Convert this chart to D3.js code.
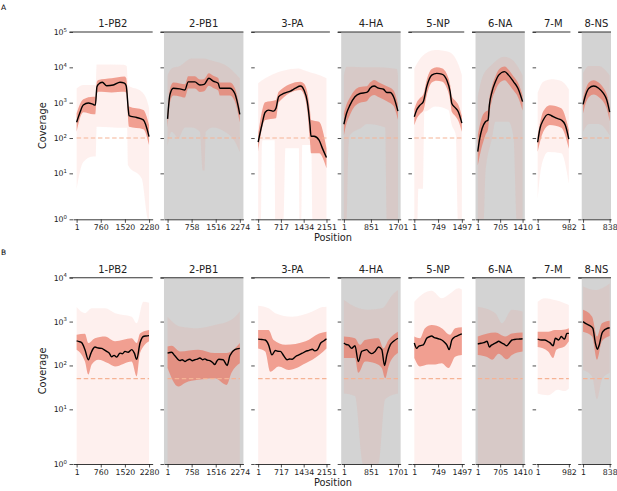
<!DOCTYPE html>
<html>
<head>
<meta charset="utf-8">
<script src="https://cdn.jsdelivr.net/npm/d3@7"></script>
<style>
  body { margin: 0; background: #fff; }
  text { font-family: "DejaVu Sans", sans-serif; }
</style>
</head>
<body>
<div id="chart"></div>
<script>

const segments = ['1-PB2', '2-PB1', '3-PA', '4-HA', '5-NP', '6-NA', '7-M', '8-NS']
const lengths = [2280, 2274, 2151, 1701, 1497, 1410, 982, 838]
const xTicks = [[1, 760, 1520, 2280], [1, 758, 1516, 2274], [1, 717, 1434, 2151], [1, 851, 1701],
  [1, 749, 1497], [1, 705, 1410], [1, 982], [1, 838]]
const yTicksA = [1, 10, 100, 1000, 10000, 100000]
const yTicksB = [1, 10, 100, 1000, 10000]
const thresholdA = 100
const thresholdB = 50

// panel A : [position, coverage]
const medianA = [
  [[1,280],[106,530],[211,860],[369,980],[526,890],[590,850],[640,2800],[684,3300],[810,3800],[946,3000],[1156,3160],[1366,3800],[1503,3550],[1560,3000],[1630,600],[1650,430],[1891,380],[2101,325],[2280,110]],
  [[1,347],[74,1660],[179,2570],[389,2450],[546,2291],[650,3890],[860,3890],[1017,3162],[1153,3311],[1300,4898],[1436,4074],[1593,3548],[1645,2570],[1960,2570],[2117,1820],[2274,468]],
  [[1,76],[118,234],[223,537],[329,617],[488,575],[562,692],[647,1479],[806,1820],[1018,2138],[1177,2570],[1335,2951],[1441,2291],[1547,1072],[1632,234],[1664,112],[1759,112],[1918,87],[2024,51],[2151,28]],
  [[1,245],[85,501],[191,851],[349,1479],[508,1820],[719,1950],[772,2138],[825,2570],[951,2951],[1089,2570],[1247,2400],[1353,1950],[1459,1950],[1564,1479],[1701,575]],
  [[1,398],[75,617],[180,851],[285,1072],[391,2818],[549,6026],[707,6761],[865,6457],[1023,4365],[1128,2042],[1181,955],[1286,724],[1392,537],[1497,263]],
  [[1,41],[53,87],[137,186],[241,288],[325,324],[366,851],[449,2042],[554,3890],[658,6026],[846,7586],[970,6026],[1128,3890],[1264,2570],[1410,1072]],
  [[1,76],[73,186],[177,324],[331,468],[435,427],[589,363],[744,324],[868,234],[982,93]],
  [[1,891],[83,1660],[185,2570],[338,2951],[491,2570],[644,1820],[746,1202],[838,537]]
]
const innerHiA = [
  [[1,500],[211,1260],[526,1480],[590,1480],[640,4000],[684,4365],[1103,4900],[1503,5500],[1560,5000],[1650,776],[2101,617],[2280,234]],
  [[1,550],[74,2400],[179,3700],[389,3500],[546,3300],[650,5600],[860,5600],[1017,4500],[1153,4700],[1300,6800],[1436,5800],[1593,5000],[1645,3700],[1960,3700],[2117,2600],[2274,700]],
  [[1,120],[223,1023],[562,1200],[647,2042],[1335,3890],[1441,3500],[1547,2000],[1632,600],[1664,324],[1918,288],[2151,51]],
  [[1,501],[85,900],[191,1400],[349,2300],[508,2800],[719,2900],[825,3700],[951,4400],[1089,3800],[1353,2900],[1564,2200],[1701,900]],
  [[1,650],[75,1000],[180,1350],[285,1700],[391,4400],[549,9000],[707,10000],[865,9500],[1023,6500],[1128,3200],[1181,1500],[1286,1150],[1392,850],[1497,420]],
  [[1,120],[137,400],[241,550],[325,620],[366,1300],[449,2900],[554,5500],[658,8500],[846,10500],[970,8500],[1128,5500],[1264,3700],[1410,1600]],
  [[1,120],[177,575],[383,851],[744,692],[982,170]],
  [[1,1300],[83,2400],[185,3700],[338,4300],[491,3700],[644,2600],[746,1750],[838,800]]
]
const innerLoA = [
  [[1,151],[211,537],[526,468],[590,468],[640,1800],[684,2042],[1103,1950],[1503,2042],[1560,1900],[1650,209],[2101,178],[2280,63]],
  [[1,200],[74,1000],[179,1600],[389,1500],[546,1400],[650,2500],[860,2500],[1017,2000],[1153,2100],[1300,3000],[1436,2600],[1593,2200],[1645,1600],[1960,1600],[2117,1100],[2274,280]],
  [[1,41],[223,324],[562,363],[647,1023],[1335,2291],[1441,1700],[1547,600],[1632,80],[1664,37],[1918,37],[2151,14]],
  [[1,120],[85,260],[191,450],[349,800],[508,1000],[719,1100],[825,1450],[951,1650],[1089,1450],[1353,1100],[1564,800],[1701,330]],
  [[1,230],[75,350],[180,480],[285,600],[391,1600],[549,3700],[707,4200],[865,4000],[1023,2600],[1128,1200],[1181,550],[1286,420],[1392,300],[1497,150]],
  [[1,17],[137,60],[241,120],[325,180],[366,450],[449,1200],[554,2200],[658,3400],[846,4300],[970,3400],[1128,2200],[1264,1450],[1410,600]],
  [[1,41],[177,151],[383,234],[744,195],[982,50]],
  [[1,500],[83,950],[185,1450],[338,1700],[491,1450],[644,1050],[746,680],[838,300]]
]
const outerHiA = [
  [[1,2500],[211,3160],[526,3160],[600,3160],[631,12000],[1471,11750],[1576,11000],[1618,3162],[2049,2042],[2259,851],[2280,700]],
  [[1,6000],[127,9300],[389,11000],[755,17800],[1122,17800],[1436,15000],[1803,11750],[2274,4900]],
  [[1,3548],[223,4898],[1283,9333],[1441,8318],[1918,6026],[2151,4898]],
  [[1,6000],[85,10470],[719,10000],[1089,10000],[1669,9000],[1701,6000]],
  [[1,9333],[233,19950],[654,30900],[1075,27540],[1392,11750],[1497,6026]],
  [[1,1500],[137,5000],[449,12000],[846,20000],[1128,15000],[1410,6000]],
  [[1,1900],[177,3900],[435,4600],[744,4100],[982,2400]],
  [[1,7000],[185,11000],[491,11000],[838,6000]]
]
const outerLoA = [
  [[1,7],[211,21],[526,30],[600,30],[631,209],[1471,195],[1590,195],[1618,17],[2049,9],[2259,1],[2280,1]],
  [[1,60],[127,150],[336,100],[546,200],[755,200],[1017,150],[1110,12],[1165,12],[1200,150],[1436,200],[1803,150],[2117,80],[2274,40]],
  [[1,0],[96,0],[118,60],[139,87],[520,87],[541,0],[806,0],[859,51],[1283,51],[1310,0],[1360,0],[1388,63],[1674,63],[1706,0],[2151,0]],
  [[1,0],[85,0],[138,40],[191,120],[561,200],[719,250],[1300,200],[1353,0],[1701,0]],
  [[1,0],[100,0],[127,7],[285,7],[317,575],[338,560],[654,776],[1075,620],[1181,234],[1307,120],[1370,0],[1497,0]],
  [[1,0],[189,0],[241,10],[449,100],[554,290],[970,290],[1128,100],[1233,0],[1410,0]],
  [[1,5],[125,17],[331,40],[744,37],[982,8]],
  [[1,150],[185,250],[491,250],[838,120]]
]

// panel B
const medianB = [
  [[1,363],[80,350],[159,331],[264,229],[369,135],[453,191],[520,240],[579,263],[680,250],[789,245],[860,230],[946,209],[1030,190],[1103,158],[1180,170],[1261,155],[1366,191],[1440,185],[1524,209],[1620,200],[1733,229],[1818,191],[1891,138],[1996,324],[2101,457],[2180,470],[2280,479]],
  [[1,191],[127,200],[231,166],[389,129],[460,135],[546,123],[620,133],[703,138],[780,128],[860,135],[940,140],[1017,148],[1100,135],[1174,141],[1250,132],[1331,129],[1410,118],[1488,105],[1550,125],[1614,138],[1750,135],[1876,100],[1960,166],[2117,229],[2274,245]],
  [[1,398],[120,390],[223,380],[329,295],[435,174],[541,219],[620,210],[700,209],[806,166],[912,135],[990,140],[1071,138],[1180,160],[1283,174],[1390,190],[1494,209],[1600,220],[1706,234],[1780,215],[1865,229],[1971,324],[2060,360],[2151,407]],
  [[1,324],[70,300],[138,295],[244,245],[349,281],[455,123],[561,209],[640,220],[719,229],[800,200],[877,186],[983,209],[1089,263],[1194,229],[1279,100],[1353,174],[1459,295],[1564,355],[1701,417]],
  [[1,324],[75,245],[130,270],[180,281],[285,295],[391,417],[470,450],[549,468],[630,430],[707,417],[790,400],[865,380],[950,340],[1023,295],[1097,229],[1181,380],[1260,440],[1339,468],[1420,500],[1497,525]],
  [[1,309],[100,320],[189,331],[293,355],[366,263],[430,290],[502,309],[580,330],[658,355],[740,330],[815,309],[919,281],[1000,330],[1076,380],[1150,390],[1233,398],[1320,400],[1410,407]],
  [[1,398],[125,380],[228,380],[300,360],[383,331],[486,281],[559,417],[662,380],[744,457],[800,420],[848,398],[920,537],[982,537]],
  [[1,1000],[90,900],[185,832],[307,708],[389,324],[450,234],[511,295],[593,537],[650,620],[716,676],[838,724]]
]
const innerHiB = [
  [[1,501],[264,525],[369,324],[579,417],[894,457],[1209,355],[1733,417],[1891,324],[1996,537],[2280,646]],
  [[1,269],[127,280],[389,209],[964,229],[1488,191],[1855,191],[2274,324]],
  [[1,646],[329,646],[488,380],[859,295],[1494,355],[1918,537],[2151,589]],
  [[1,457],[349,417],[508,295],[666,380],[1089,417],[1247,245],[1405,380],[1701,589]],
  [[1,457],[180,417],[338,708],[549,832],[865,708],[1128,501],[1286,708],[1497,741]],
  [[1,457],[554,562],[867,457],[1076,537],[1410,562]],
  [[1,589],[331,589],[538,646],[744,646],[982,708]],
  [[1,1862],[287,1288],[440,457],[593,912],[838,1047]]
]
const innerLoB = [
  [[1,229],[264,123],[369,62],[474,105],[684,135],[999,112],[1209,95],[1733,123],[1891,56],[1996,191],[2280,355]],
  [[1,87],[336,33],[546,40],[964,47],[1488,51],[1855,36],[2012,68],[2274,112]],
  [[1,245],[223,209],[382,72],[647,95],[965,79],[1494,112],[1918,174],[2151,245]],
  [[1,148],[349,148],[455,68],[666,123],[983,112],[1194,87],[1300,51],[1405,95],[1701,191]],
  [[1,148],[180,95],[443,105],[654,105],[865,112],[1075,87],[1286,158],[1497,174]],
  [[1,174],[293,155],[449,135],[658,186],[919,138],[1076,174],[1410,209]],
  [[1,263],[331,209],[486,148],[589,229],[848,269],[982,355]],
  [[1,589],[287,457],[440,135],[593,355],[838,468]]
]
const outerHiB = [
  [[1,2138],[264,1549],[474,2000],[894,2000],[1209,1549],[1733,1288],[1891,912],[2101,2818],[2280,2692]],
  [[1,1288],[389,776],[964,708],[1488,832],[2012,1096],[2274,1698]],
  [[1,2291],[329,2000],[541,1549],[1071,1288],[1706,1698],[2024,2138],[2151,2188]],
  [[1,3090],[349,2188],[772,1862],[1194,2000],[1564,4365],[1701,5248]],
  [[1,2818],[233,4074],[549,5012],[865,3388],[1128,4365],[1392,5754],[1497,5370]],
  [[1,2188],[554,1549],[763,912],[1076,1862],[1410,1698]],
  [[1,2818],[228,3388],[538,3090],[848,2630],[982,2399]],
  [[1,6310],[389,5248],[838,7413]]
]
const outerLoB = [
  [[1,0],[2280,0]],
  [[1,0],[2274,0]],
  [[1,0],[2151,0]],
  [[1,23],[349,20],[614,0],[1089,0],[1300,17],[1701,23]],
  [[1,0],[1497,0]],
  [[1,0],[1410,0]],
  [[1,23],[331,21],[641,28],[848,26],[982,30]],
  [[1,79],[287,56],[440,17],[593,47],[838,68]]
]

const width = 617, height = 491
const left = 73, right = 611, gap = 11.3
const unit = (right - left - gap * (lengths.length - 1)) / d3.sum(lengths)

let acc = left
const panelX = lengths.map(L => { const x0 = acc; acc += L * unit + gap; return x0 })

const rows = [
  { name: 'A', top: 32, bottom: 219.3, k: 1.30, tmax: 5, ticks: yTicksA, thr: thresholdA,
    med: medianA, ih: innerHiA, il: innerLoA, oh: outerHiA, ol: outerLoA },
  { name: 'B', top: 277.7, bottom: 464, k: 1.246, tmax: 4, ticks: yTicksB, thr: thresholdB,
    med: medianB, ih: innerHiB, il: innerLoB, oh: outerHiB, ol: outerLoB }
]

const svg = d3.select('#chart')
  .append('svg')
  .attr('width', width)
  .attr('height', height)

rows.forEach(r => {

  // log above 10, linear between 1 and 10 (symlog-like)
  const tr = v => v >= 10 ? Math.log10(v) : (v <= 1 ? 1 - r.k : 1 - r.k * (10 - v) / 9)
  const ys = d3.scaleLinear().domain([1 - r.k, r.tmax]).range([r.bottom, r.top])
  const y = v => ys(tr(v))

  svg.append('text')
    .attr('x', 1)
    .attr('y', r.top - 22.5)
    .attr('font-size', 7.5)
    .text(r.name)

  svg.append('text')
    .attr('transform', `translate(${left - 27},${(r.top + r.bottom) / 2}) rotate(-90)`)
    .attr('text-anchor', 'middle')
    .attr('font-size', 9.8)
    .attr('fill', '#222')
    .text('Coverage')

  svg.append('text')
    .attr('x', 333)
    .attr('y', r.bottom + 21.5)
    .attr('text-anchor', 'middle')
    .attr('font-size', 9.8)
    .attr('fill', '#222')
    .text('Position')

  segments.forEach((seg, i) => {
    const L = lengths[i]
    const w = L * unit
    const pad = 0.05 * (L - 1)
    const x = d3.scaleLinear().domain([1 - pad, L + pad]).range([0, w])
    const line = d3.line().x(d => x(d[0])).y(d => y(d[1])).curve(d3.curveMonotoneX)
    const band = (hi, lo) => line(hi) + 'L' + line(lo.slice().reverse()).slice(1) + 'Z'

    const g = svg.append('g').attr('transform', `translate(${panelX[i]},0)`)

    if (i % 2) {
      g.append('rect')
        .attr('x', 0)
        .attr('y', r.top)
        .attr('width', w)
        .attr('height', r.bottom - r.top)
        .attr('fill', '#d3d3d3')
    }

    g.append('path')
      .attr('d', band(r.oh[i], r.ol[i]))
      .attr('fill', '#fa8072')
      .attr('fill-opacity', 0.12)

    g.append('path')
      .attr('d', band(r.ih[i], r.il[i]))
      .attr('fill', '#e9735f')
      .attr('fill-opacity', 0.65)

    g.append('line')
      .attr('x1', x(1))
      .attr('x2', x(L))
      .attr('y1', y(r.thr))
      .attr('y2', y(r.thr))
      .attr('stroke', '#f5b395')
      .attr('stroke-width', 1.2)
      .attr('stroke-dasharray', '4.5,2.6')

    g.append('path')
      .attr('d', line(r.med[i]))
      .attr('fill', 'none')
      .attr('stroke', 'black')
      .attr('stroke-width', 1.4)

    const xa = g.append('g')
      .attr('transform', `translate(0,${r.bottom})`)
      .call(d3.axisBottom(x).tickValues(xTicks[i]).tickFormat(d3.format('d'))
        .tickSize(3.5).tickSizeOuter(0).tickPadding(2))
    xa.attr('font-size', 7.8).attr('font-family', null)
    xa.select('.domain').attr('stroke', '#222').attr('stroke-width', 0.9)
    xa.selectAll('.tick line').attr('stroke', '#222').attr('stroke-width', 0.8)
    xa.selectAll('.tick text').attr('fill', '#222')

    const ya = g.append('g')
      .call(d3.axisLeft(ys).tickValues(r.ticks.map(tr)).tickSize(3.5).tickPadding(2.5).tickFormat(''))
    ya.attr('font-size', 7.8).attr('font-family', null)
    ya.select('.domain').remove()
    ya.selectAll('.tick line').attr('stroke', '#222').attr('stroke-width', 0.8)
    if (i === 0) {
      ya.selectAll('.tick text').each(function (d, j) {
        const t = d3.select(this).attr('fill', '#222')
        t.append('tspan').text('10')
        t.append('tspan')
          .attr('dy', -3.3)
          .attr('font-size', 5.4)
          .text(Math.round(Math.log10(r.ticks[j])))
      })
    }

    g.append('line')
      .attr('x1', -3.5)
      .attr('x2', w)
      .attr('y1', r.top)
      .attr('y2', r.top)
      .attr('stroke', '#333')
      .attr('stroke-width', 1.1)

    g.append('text')
      .attr('x', w / 2)
      .attr('y', r.top - 4.8)
      .attr('text-anchor', 'middle')
      .attr('font-size', 10)
      .attr('fill', '#222')
      .text(seg)
  })
})
</script>
</body>
</html>
